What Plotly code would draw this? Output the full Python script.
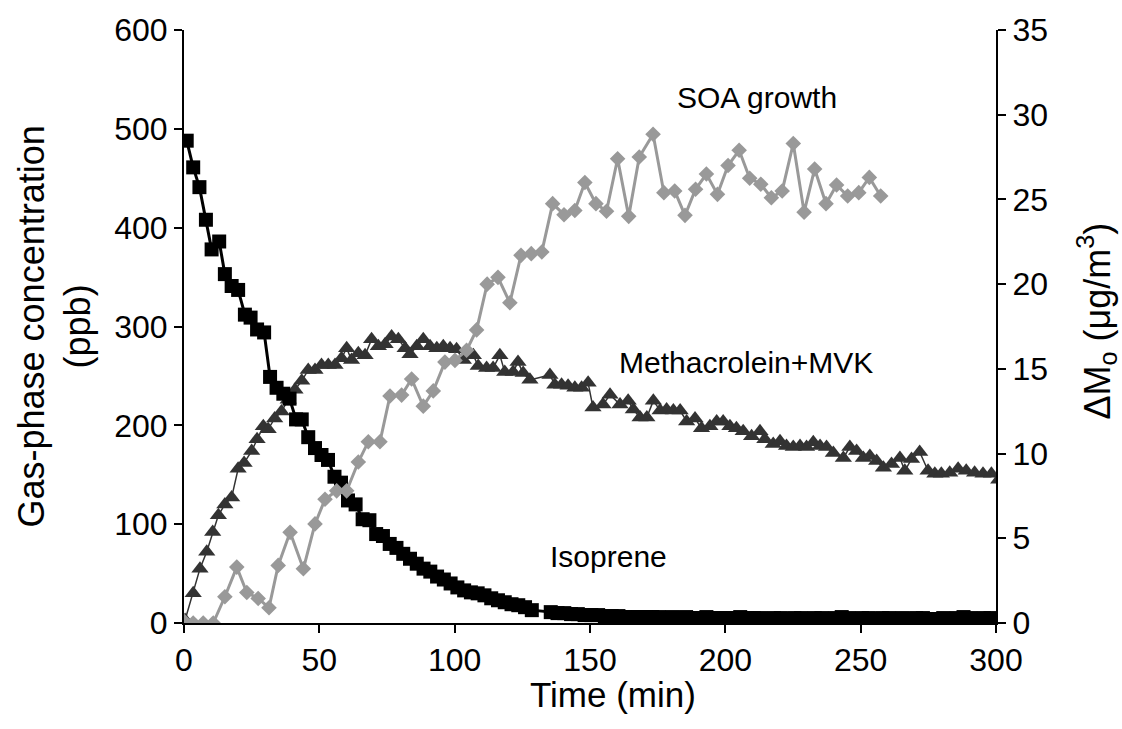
import plotly.graph_objects as go

# ---- data ----
iso_t = [1, 3.4, 5.7, 8.1, 10.2, 13.0, 15.1, 17.6, 20.0, 22.5,
         24.6, 27.0, 29.6, 31.8, 34.2, 36.7, 39.0, 41.4, 43.5, 45.9,
         48.4, 50.8, 53.2, 55.6, 58.0, 60.6, 63.4, 66.0, 68.5, 71.0,
         73.5, 76.0, 78.5, 81.0, 83.5, 86.0, 88.5, 91.0, 93.5, 96.0,
         98.5, 101.0, 103.5, 106.0, 108.5, 111.0, 113.5, 116.0, 118.5, 121.0,
         123.5, 126.0, 128.5, 135.5, 138.0, 140.5, 143.0, 145.5, 148.0, 150.5,
         153.0, 155.5, 158.0, 160.5, 163.0, 165.5, 168.0, 170.5,
         173.0, 175.5, 178.0, 180.5, 183.0, 185.5, 188.0, 190.5, 193.0, 195.5,
         198.0, 200.5, 203.0, 205.5, 208.0, 210.5, 213.0, 215.5, 218.0, 220.5,
         223.0, 225.5, 228.0, 230.5, 233.0, 235.5, 238.0, 240.5, 243.0, 245.5,
         248.0, 250.5, 253.0, 255.5, 258.0, 260.5, 263.0, 265.5, 268.0, 270.5,
         273.0, 275.5, 278.0, 280.5, 283.0, 285.5, 288.0, 290.5, 293.0, 295.5,
         298.0]
isoprene = [488, 461, 441, 408, 378, 386, 353, 341, 337, 312,
            309, 297, 294, 249, 238, 232, 227, 206, 206, 188,
            177, 170, 165, 148, 142, 124, 120, 105, 104, 90,
            88, 80, 76, 70, 65, 60, 55, 52, 47, 44,
            40, 36, 33, 31, 30, 28, 25, 23, 21, 19,
            18, 16, 13, 11, 10, 10, 9, 9, 8, 8,
            8, 7, 7, 7, 6, 6, 6, 6,
            6, 6, 5, 6, 5, 6, 5, 5, 6, 5,
            5, 5, 5, 6, 5, 5, 5, 4, 5, 5,
            4, 5, 5, 4, 5, 5, 4, 5, 6, 5,
            4, 5, 5, 4, 5, 5, 4, 5, 4, 5,
            5, 4, 4, 5, 4, 5, 6, 5, 4, 5,
            5]

mvk_t = [0.4, 3.4, 5.9, 8.4, 10.6, 12.7, 15.1, 17.6, 20.0, 22.2,
         25.0, 27.0, 29.3, 31.1, 33.5, 36.0, 38.5, 41.0, 43.5, 45.9,
         48.4, 50.8, 53.3, 55.8, 58.2, 60.1, 61.9, 64.4, 66.9, 69.3,
         71.8, 74.3, 76.7, 79.2, 81.7, 83.5, 86.0, 88.4, 90.9, 93.4,
         95.8, 98.3, 100.7, 103.2, 106.9, 108.7, 111.8, 114.2, 116.7, 118.5,
         121.6, 123.4, 125.3, 127.8, 135.2, 137.0, 139.5, 141.9, 144.4, 146.9,
         149.3, 151.1, 154.8, 157.4, 161.1, 164.1, 166.0, 168.5, 171.0, 173.4,
         175.9, 178.3, 180.8, 183.3, 185.7, 188.8, 191.2, 194.3, 196.8, 199.2,
         201.7, 204.1, 206.6, 209.7, 212.8, 214.6, 217.7, 220.2, 222.6, 225.1,
         227.6, 230.0, 232.5, 235.0, 237.4, 239.9, 243.6, 246.0, 248.5, 251.0,
         253.4, 255.9, 258.4, 261.4, 264.5, 266.3, 268.8, 271.8, 274.9, 277.4,
         279.8, 282.9, 286.0, 289.0, 292.1, 295.2, 298.3, 301.0]
mvk = [3, 30, 55, 72, 92, 109, 120, 127, 156, 162,
       174, 186, 199, 196, 207, 214, 226, 236, 245, 256,
       256, 261, 261, 261, 268, 278, 266, 273, 271, 287,
       280, 282, 290, 287, 278, 272, 280, 287, 280, 278,
       280, 278, 277, 266, 271, 260, 258, 258, 271, 254,
       254, 264, 253, 246, 251, 241, 241, 240, 238, 238,
       243, 218, 221, 231, 221, 225, 216, 208, 208, 225,
       215, 216, 215, 215, 204, 207, 197, 199, 204, 204,
       199, 197, 194, 189, 194, 186, 181, 184, 179, 178,
       179, 178, 183, 179, 178, 172, 167, 178, 174, 167,
       169, 164, 157, 161, 167, 154, 166, 173, 154, 151,
       151, 152, 156, 154, 152, 151, 151, 145]

soa_t = [0, 3.4, 7.1, 10.8, 15.1, 19.5, 23.2, 27.4, 31.4, 34.8,
         39.2, 44.1, 48.4, 52.1, 56.4, 60.1, 64.4, 68.1, 72.4, 76.1,
         80.4, 84.1, 88.4, 92.1, 96.4, 100.1, 104.4, 108.1, 112.0, 116.0,
         120.4, 124.5, 128.3, 132.2, 136.2, 140.4, 144.4, 148.1, 152.2, 156.1,
         160.2, 164.3, 168.2, 173.3, 177.3, 181.3, 185.1, 189.0, 193.0, 197.1,
         201.0, 205.1, 209.0, 213.1, 217.0, 221.0, 225.1, 229.1, 233.0, 237.2,
         241.1, 245.2, 249.3, 253.2, 257.4]
soa = [0.1, 0, 0, 0, 1.55, 3.3, 1.8, 1.45, 0.9, 3.4,
       5.35, 3.2, 5.85, 7.3, 7.8, 7.8, 9.5, 10.7, 10.7, 13.4,
       13.45, 14.4, 12.8, 13.7, 15.4, 15.5, 16.1, 17.3, 20.0, 20.4,
       18.9, 21.7, 21.8, 21.9, 24.75, 24.1, 24.35, 26.0, 24.75, 24.3,
       27.4, 24.0, 27.5, 28.85, 25.4, 25.5, 24.06, 25.6, 26.5, 25.3,
       27.0, 27.9, 26.25, 25.9, 25.1, 25.5, 28.3, 24.25, 26.8, 24.75,
       25.85, 25.2, 25.4, 26.3, 25.2]

x_ticks = [0, 50, 100, 150, 200, 250, 300]
y_ticks = [0, 100, 200, 300, 400, 500, 600]
y2_ticks = [0, 5, 10, 15, 20, 25, 30, 35]

FONT = "Liberation Sans, Arial, sans-serif"

# plot area in pixels (for placing the axis titles)
L, R, T, B = 184, 996, 27, 623
W, H = R - L, B - T

fig = go.Figure()
fig.add_trace(go.Scatter(
    x=mvk_t, y=mvk, mode="lines+markers", name="Methacrolein+MVK",
    line=dict(color="#333333", width=1.5),
    marker=dict(symbol="triangle-up", size=15, color="#333333"),
    yaxis="y"))
fig.add_trace(go.Scatter(
    x=iso_t, y=isoprene, mode="lines+markers", name="Isoprene",
    line=dict(color="#000000", width=3),
    marker=dict(symbol="square", size=14, color="#000000"),
    yaxis="y"))
fig.add_trace(go.Scatter(
    x=soa_t, y=soa, mode="lines+markers", name="SOA growth",
    line=dict(color="#999999", width=3),
    marker=dict(symbol="diamond", size=12, color="#999999"),
    yaxis="y2"))

axis_common = dict(showgrid=False, zeroline=False, showline=True,
                   linecolor="black", linewidth=2, ticks="outside",
                   ticklen=8, tickwidth=2, tickcolor="black",
                   tickfont=dict(family=FONT, size=32, color="black"))

fig.update_layout(
    width=1122, height=729,
    margin=dict(l=L, r=1122 - R, t=T, b=729 - B),
    paper_bgcolor="white", plot_bgcolor="white",
    showlegend=False,
    font=dict(family=FONT, color="black"),
    xaxis=dict(range=[0, 300], tickvals=x_ticks, **axis_common),
    yaxis=dict(range=[0, 600], tickvals=y_ticks, **axis_common),
    yaxis2=dict(range=[0, 35], tickvals=y2_ticks, overlaying="y",
                side="right", **axis_common),
)

ann_font = dict(family=FONT, size=30, color="black")
fig.add_annotation(x=211.7, y=31.0, xref="x", yref="y2", text="SOA growth",
                   showarrow=False, font=ann_font)
fig.add_annotation(x=207.6, y=15.4, xref="x", yref="y2", text="Methacrolein+MVK",
                   showarrow=False, font=ann_font)
fig.add_annotation(x=157, y=3.9, xref="x", yref="y2", text="Isoprene",
                   showarrow=False, font=ann_font)

# axis titles
fig.add_annotation(x=(613 - L) / W, y=(B - 695) / H, xref="paper", yref="paper",
                   text="Time (min)", showarrow=False,
                   xanchor="center", yanchor="middle",
                   font=dict(family=FONT, size=35, color="black"))
fig.add_annotation(x=(54 - L) / W, y=(B - 325) / H, xref="paper", yref="paper",
                   text="Gas-phase concentration<br>(ppb)", showarrow=False,
                   textangle=-90, xanchor="center", yanchor="middle",
                   font=dict(family=FONT, size=36, color="black"))
fig.add_annotation(x=(1097 - L) / W, y=(B - 320) / H, xref="paper", yref="paper",
                   text="ΔM<sub>o</sub> (μg/m<sup>3</sup>)", showarrow=False,
                   textangle=-90, xanchor="center", yanchor="middle",
                   font=dict(family=FONT, size=36, color="black"))

fig.write_html("out.html")
